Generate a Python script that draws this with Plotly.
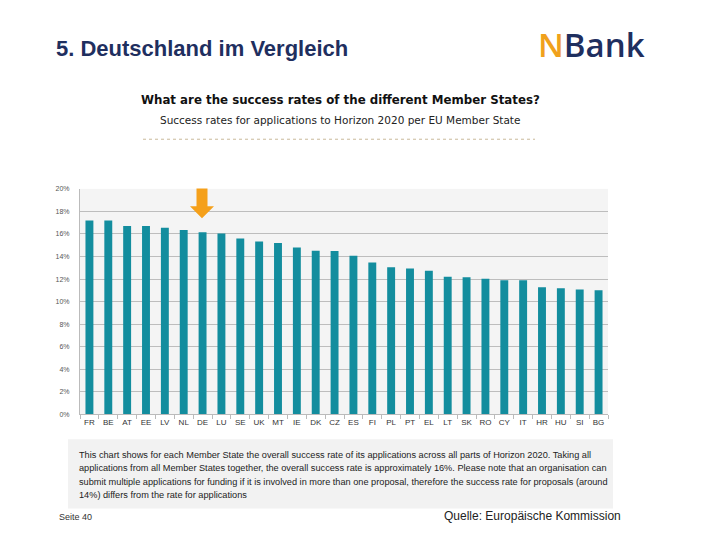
import plotly.graph_objects as go

countries = ["FR", "BE", "AT", "EE", "LV", "NL", "DE", "LU", "SE", "UK", "MT", "IE", "DK", "CZ", "ES",
             "FI", "PL", "PT", "EL", "LT", "SK", "RO", "CY", "IT", "HR", "HU", "SI", "BG"]
rates = [17.2, 17.2, 16.7, 16.7, 16.55, 16.35, 16.15, 16.05, 15.6, 15.33, 15.2, 14.8, 14.5, 14.48, 14.07,
         13.46, 13.05, 12.93, 12.73, 12.2, 12.15, 12.03, 11.9, 11.9, 11.27, 11.18, 11.07, 11.0]
ytick_vals = [0, 2, 4, 6, 8, 10, 12, 14, 16, 18, 20]
ytick_text = [f"{v}%" for v in ytick_vals]

W, H = 720, 540
def px(x):
    return x / W
def py(y):
    return 1 - y / H

fig = go.Figure()
fig.add_trace(go.Bar(x=countries, y=rates, marker=dict(color="#138d9e", line=dict(width=0)),
                     hoverinfo="x+y"))

fig.update_layout(
    width=W, height=H,
    margin=dict(l=0, r=0, t=0, b=0),
    paper_bgcolor="white",
    plot_bgcolor="#f4f4f4",
    showlegend=False,
    bargap=0.58,
    font=dict(family="Liberation Sans, Arial, sans-serif"),
    xaxis=dict(domain=[px(80), px(608)], type="category", showgrid=False, tickangle=0,
               ticks="outside", tickson="boundaries", ticklen=4, tickcolor="#bbbbbb",
               showline=True, linecolor="#bbbbbb", linewidth=1,
               tickfont=dict(size=8, color="#333333"), fixedrange=True),
    yaxis=dict(domain=[py(415.7), py(187.3)], range=[0, 20], tickvals=ytick_vals, ticktext=ytick_text,
               showgrid=True, gridcolor="#bdbdbd", gridwidth=1, zeroline=False,
               showline=True, linecolor="#bbbbbb", linewidth=1,
               tickfont=dict(size=7, color="#555555"), ticklabelstandoff=8, fixedrange=True),
)

# orange arrow pointing at DE
arrow = [(196.5, 187), (207.5, 187), (207.5, 205), (214, 205), (202, 217), (190, 205), (196.5, 205)]
path = "M " + " L ".join(f"{px(x):.5f},{py(y):.5f}" for x, y in arrow) + " Z"
fig.add_shape(type="path", xref="paper", yref="paper", path=path,
              fillcolor="#f5a01a", line=dict(width=0))

# dotted separator line
fig.add_shape(type="line", xref="paper", yref="paper", x0=px(143), x1=px(535), y0=py(137), y1=py(137),
              line=dict(color="#c9b99a", width=1, dash="dot"))

# note box
fig.add_shape(type="rect", xref="paper", yref="paper", x0=px(68), x1=px(613), y0=py(511), y1=py(441),
              fillcolor="#f2f2f2", line=dict(width=0), layer="below")

note_lines = [
    "This chart shows for each Member State the overall success rate of its applications across all parts of Horizon 2020. Taking all",
    "applications from all Member States together, the overall success rate is approximately 16%. Please note that an organisation can",
    "submit multiple applications for funding if it is involved in more than one proposal, therefore the success rate for proposals (around",
    "14%) differs from the rate for applications",
]
for i, line in enumerate(note_lines):
    fig.add_annotation(xref="paper", yref="paper", x=px(77), y=py(456.5 + i * 13.8), text=line,
                       showarrow=False, xanchor="left", yanchor="middle",
                       font=dict(family="Liberation Sans, Arial", size=9.2, color="#222222"))

# titles
fig.add_annotation(xref="paper", yref="paper", x=px(54), y=py(45), text="<b>5. Deutschland im Vergleich</b>",
                   showarrow=False, xanchor="left", yanchor="middle",
                   font=dict(family="Liberation Sans, Arial", size=22, color="#1f2f5f"))
fig.add_annotation(xref="paper", yref="paper", x=px(340), y=py(97),
                   text="<b>What are the success rates of the different Member States?</b>",
                   showarrow=False, xanchor="center", yanchor="middle",
                   font=dict(family="DejaVu Sans, Verdana", size=11.8, color="#111111"))
fig.add_annotation(xref="paper", yref="paper", x=px(340), y=py(118),
                   text="Success rates for applications to Horizon 2020 per EU Member State",
                   showarrow=False, xanchor="center", yanchor="middle",
                   font=dict(family="DejaVu Sans, Verdana", size=10.5, color="#222222"))

# logo
fig.add_annotation(xref="paper", yref="paper", x=px(536), y=py(41),
                   text="<span style='color:#f0a11c'>N</span><span style='color:#1f2f5f'>Bank</span>",
                   showarrow=False, xanchor="left", yanchor="middle",
                   font=dict(family="Open Sans, Liberation Sans, Arial", size=33, weight=600))

# footer
fig.add_annotation(xref="paper", yref="paper", x=px(57), y=py(520), text="Seite 40",
                   showarrow=False, xanchor="left", yanchor="middle",
                   font=dict(family="Liberation Sans, Arial", size=9, color="#333333"))
fig.add_annotation(xref="paper", yref="paper", x=px(623), y=py(519), text="Quelle: Europäische Kommission",
                   showarrow=False, xanchor="right", yanchor="middle",
                   font=dict(family="Liberation Sans, Arial", size=12, color="#222222"))

fig.write_html("out.html", config={"displayModeBar": False},
               post_script="document.body.style.margin='0';document.body.style.overflow='hidden';")
